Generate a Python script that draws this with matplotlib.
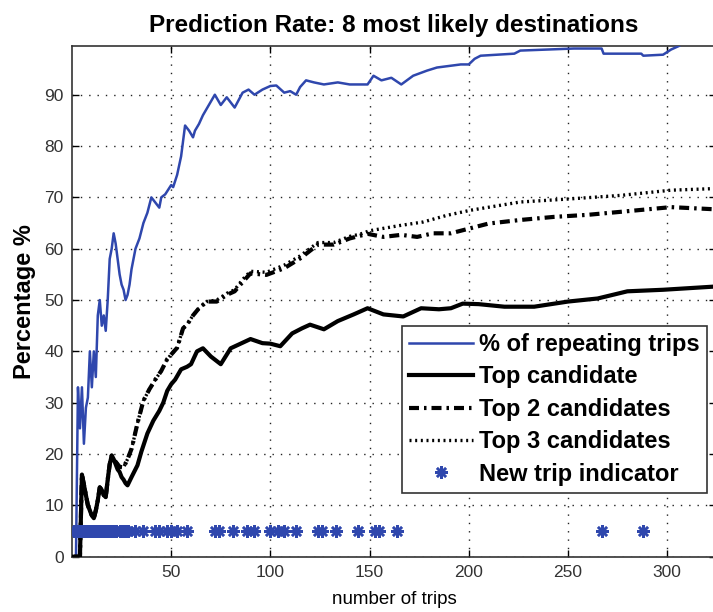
import matplotlib
matplotlib.use("Agg")
import matplotlib.pyplot as plt

plt.rcParams['font.family'] = ['Liberation Sans', 'DejaVu Sans']

# % of repeating trips
rep_x = [1, 2, 3, 4, 5, 6, 7, 8, 9, 10, 11, 12, 13, 14, 15, 16, 17, 18, 19, 20,
         21, 22, 23, 24, 25, 26, 27, 28, 29, 30, 31, 32, 33, 34, 36, 38, 40, 42,
         44, 45, 47, 50, 51, 53, 55, 57, 59, 61, 62, 64, 66, 69, 72, 75, 78, 82,
         86, 89, 92, 96, 100, 103, 107, 110, 113, 115, 118, 122, 127, 134, 140,
         149, 152, 156, 161, 166, 172, 179, 184, 196, 200, 203, 206, 223, 226,
         253, 267, 268, 287, 288, 298, 302, 306, 308, 323]
rep_y = [0, 0, 33, 25, 33, 22, 29, 31, 40, 33, 40, 35, 47, 50, 45, 47, 44, 50, 58, 60,
         63, 61, 58, 55, 53, 52, 50, 51, 53, 56, 58, 60, 61, 62, 65, 67, 70, 69,
         68, 70, 70.6, 72.4, 72, 74.4, 78, 84, 83, 81.7, 83, 84.3, 86, 88, 90, 88, 89.5, 87.5,
         90.4, 91, 90, 91, 91.7, 91.8, 90.4, 90.7, 90, 91.5, 92.8, 92.4, 92, 92.4, 92,
         92, 93.7, 92.8, 93.3, 92, 93.7, 94.7, 95.3, 95.9, 95.9, 97, 97.6, 98, 98.6,
         99, 99, 98, 98, 97.6, 97.8, 98.8, 99.5, 100, 100]

# top candidate
top1_x = [1, 2, 3, 4, 5, 6, 7, 8, 9, 10, 11, 12, 13, 14, 15, 16, 17, 18, 19, 20,
          21, 22, 23, 24, 25, 26, 27, 28, 30, 33, 35, 38, 41, 44, 46, 48, 50, 52,
          55, 58, 60, 63, 66, 70, 75, 80, 85, 90, 96, 100, 105, 111, 116, 120, 127,
          134, 142, 149, 157, 167, 176, 185, 191, 197, 205, 218, 233, 250, 265,
          280, 298, 323]
top1_y = [0, 0, 0, 0, 16, 14, 12, 10, 9, 8, 7.5, 9, 11, 13.5, 13, 12, 11.6, 15, 18, 19.7,
          19, 18, 17, 16.5, 15.5, 15, 14.3, 13.9, 15.5, 17.8, 20.5, 24, 26.5, 28.4, 30, 32.3, 33.6, 34.5,
          36.5, 37, 37.5, 40, 40.6, 39, 37.5, 40.6, 41.5, 42.4, 41.6, 41.5, 41, 43.5, 44.5, 45.2, 44.3,
          45.9, 47.2, 48.4, 47.2, 46.8, 48.4, 48.2, 48.4, 49.3, 49.2, 48.7, 48.7, 49.7, 50.3,
          51.7, 52, 52.6]

# top 2 candidates
top2_x = [1, 2, 3, 4, 5, 6, 7, 8, 9, 10, 11, 12, 13, 14, 15, 16, 17, 18, 19, 20,
          21, 22, 24, 26, 28, 30, 31, 33, 36, 39, 42, 45, 48, 53, 56, 58, 61, 64,
          68, 73, 78, 82, 86, 90, 98, 107, 115, 124, 132, 140, 149, 157, 166, 174,
          182, 191, 198, 210, 226, 243, 260, 277, 302, 323]
top2_y = [0, 0, 0, 0, 16, 14, 12, 10, 9, 8, 7.5, 9, 11, 13.5, 13, 12, 11.6, 15, 18, 19.7,
          19, 18.5, 17.5, 17.4, 19, 21, 22.6, 26, 30.4, 32.6, 34.5, 36.2, 38.5, 40.7, 44.5, 45.2, 47, 48.4,
          49.7, 49.7, 51, 51.7, 53.5, 55.2, 54.9, 56.2, 58.1, 60.8, 60.8, 62, 62.9, 62.3, 62.7, 62.3,
          63, 63, 63.7, 64.9, 65.6, 66.2, 66.6, 67.2, 68.1, 67.7]

# top 3 candidates
top3_x = [1, 2, 3, 4, 5, 6, 7, 8, 9, 10, 11, 12, 13, 14, 15, 16, 17, 18, 19, 20,
          21, 22, 24, 26, 28, 30, 31, 33, 36, 39, 42, 45, 48, 53, 56, 58, 61, 64,
          68, 73, 78, 82, 86, 90, 98, 107, 115, 124, 132, 140, 145, 150, 165, 177,
          189, 201, 226, 251, 277, 302, 323]
top3_y = [0, 0, 0, 0, 16, 14, 12, 10, 9, 8, 7.5, 9, 11, 13.5, 13, 12, 11.6, 15, 18, 19.7,
          19, 18.5, 17.5, 17.4, 19, 21, 22.6, 26, 30.4, 32.6, 34.5, 36.2, 38.5, 40.7, 44.5, 45.2, 47, 48.4,
          49.7, 50, 51.3, 52, 54, 55.6, 55.4, 56.8, 58.6, 61.2, 61.2, 62.4, 62.8, 63.5, 64.5, 65.2,
          66.5, 67.5, 69.1, 69.7, 70.4, 71.4, 71.7]

# trips that started a new destination
new_trip_x = [1, 2, 3, 4, 5, 6, 7, 8, 9, 10, 11, 12, 13, 14, 15, 16, 17, 18, 19, 20,
              21, 22, 24, 25, 26, 27, 28, 32, 36, 42, 44, 48, 50, 53, 58, 72, 74, 81,
              88, 92, 100, 104, 107, 113, 124, 126, 133, 144, 153, 155, 164, 267, 288]
new_trip_y = [5] * len(new_trip_x)

blue = '#2f47ad'

fig = plt.figure(figsize=(7.13, 6.12), dpi=100)
ax = fig.add_axes([0.101, 0.0904, 0.903, 0.8345])

ax.plot(rep_x, rep_y, color=blue, lw=1.8, label='% of repeating trips', zorder=3)
ax.plot(top1_x, top1_y, color='k', lw=3.0, label='Top candidate', zorder=3)
ax.plot(top2_x, top2_y, color='k', lw=3.0, linestyle=(0, (2.4, 1.2, 0.6, 1.2)),
        label='Top 2 candidates', zorder=3)
ax.plot(top3_x, top3_y, color='k', lw=2.4, linestyle=(0, (0.6, 1.1)),
        label='Top 3 candidates', zorder=3)
ax.plot(new_trip_x, new_trip_y, linestyle='none', marker=(8, 2, 0), markersize=9,
        markeredgewidth=1.8, color=blue, label='New trip indicator', zorder=4)

ax.set_xlim(0, 324.6)
ax.set_ylim(0, 99.5)
ax.set_xticks([50, 100, 150, 200, 250, 300])
ax.set_yticks(range(0, 100, 10))
ax.grid(True, color='#222222', linestyle=(0, (1, 5)), lw=1.0)
ax.tick_params(direction='in', length=5, width=1, top=True, right=True,
               labelsize=12.5, labelcolor='#333333', pad=6)
for sp in ax.spines.values():
    sp.set_linewidth(1.2)
    sp.set_color('#333333')

ax.set_title('Prediction Rate: 8 most likely destinations', fontsize=17.5,
             fontweight='bold', pad=10)
ax.set_ylabel('Percentage %', fontsize=17, fontweight='bold', labelpad=6)
ax.set_xlabel('number of trips', fontsize=13.5, labelpad=8)

leg = ax.legend(loc='lower right', bbox_to_anchor=(0.986, 0.125),
                prop={'weight': 'bold', 'size': 17}, handlelength=2.7,
                handletextpad=0.25, borderpad=0.3, labelspacing=0.4,
                borderaxespad=0, fancybox=False, framealpha=1,
                edgecolor='#333333')
leg.get_frame().set_linewidth(1.2)

fig.savefig('out.png', dpi=100)
